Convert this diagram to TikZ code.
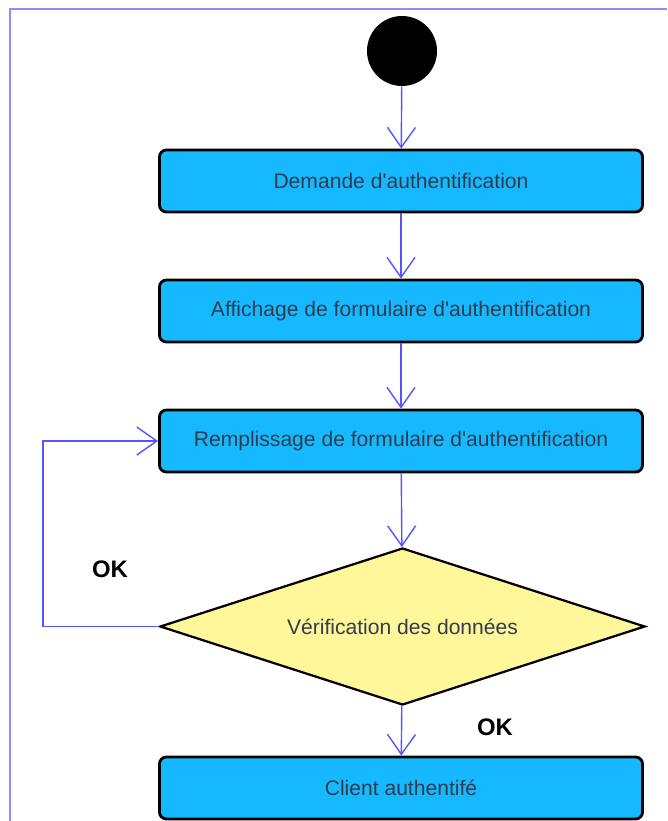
\documentclass[tikz,border=0pt]{standalone}
\usepackage{fontspec}
\setmainfont{Liberation Sans}
\usetikzlibrary{shapes.geometric,arrows.meta}
\definecolor{actfill}{RGB}{22,184,255}
\definecolor{decfill}{RGB}{255,247,153}
\definecolor{flowblue}{RGB}{85,85,255}
\definecolor{framecol}{RGB}{140,140,255}
\definecolor{acttext}{RGB}{50,60,78}
\begin{document}
\begin{tikzpicture}[x=0.025cm,y=-0.025cm,
    activity/.style={draw=black,line width=2pt,fill=actfill,rounded corners=5pt,minimum width=12.075cm,minimum height=1.55cm,text=acttext,font=\fontsize{15}{17}\selectfont},
    decision/.style={diamond,draw=black,line width=1.6pt,fill=decfill,shape aspect=3.09,minimum width=12.125cm,minimum height=3.925cm,inner sep=0pt,text=acttext,font=\fontsize{15}{17}\selectfont},
    flow/.style={draw=flowblue,line width=1pt,-{Straight Barb[length=0.5cm,width=0.7cm,line width=1pt]}},
    guard/.style={font=\bfseries\fontsize{17}{19}\selectfont}]
        \useasboundingbox (0,0) rectangle (667,821);
        \fill[white] (0,0) rectangle (667,821);
        \draw[framecol,line width=1.2pt] (10,821) -- (10,9) -- (667,9);
        \node[circle,fill=black,minimum size=1.75cm,inner sep=0pt] at (402,51) (start){};
        \node[activity] at (401,181) (demande){Demande d\textquotesingle authentification};
        \node[activity] at (401,311) (affichage){Affichage de formulaire d\textquotesingle authentification};
        \node[activity] at (401,441) (remplissage){Remplissage de formulaire d\textquotesingle authentification};
        \node[decision] at (402.5,626.5) (verif){Vérification des données};
        \node[activity] at (401,788) (client){Client authentifé};
        \coordinate (retour) at (43,626.5);
        \draw[flow] (start) -- (demande);
        \draw[flow] (demande) -- (affichage);
        \draw[flow] (affichage) -- (remplissage);
        \draw[flow] (remplissage) -- (verif);
        \draw[flow] (verif) -- (client);
        \draw[flow] (verif.west) -- (retour) |- (remplissage.west);
        \node[guard] at (110,569) (okretour){OK};
        \node[guard] at (495,727) (okclient){OK};
    \end{tikzpicture}
\end{document}
